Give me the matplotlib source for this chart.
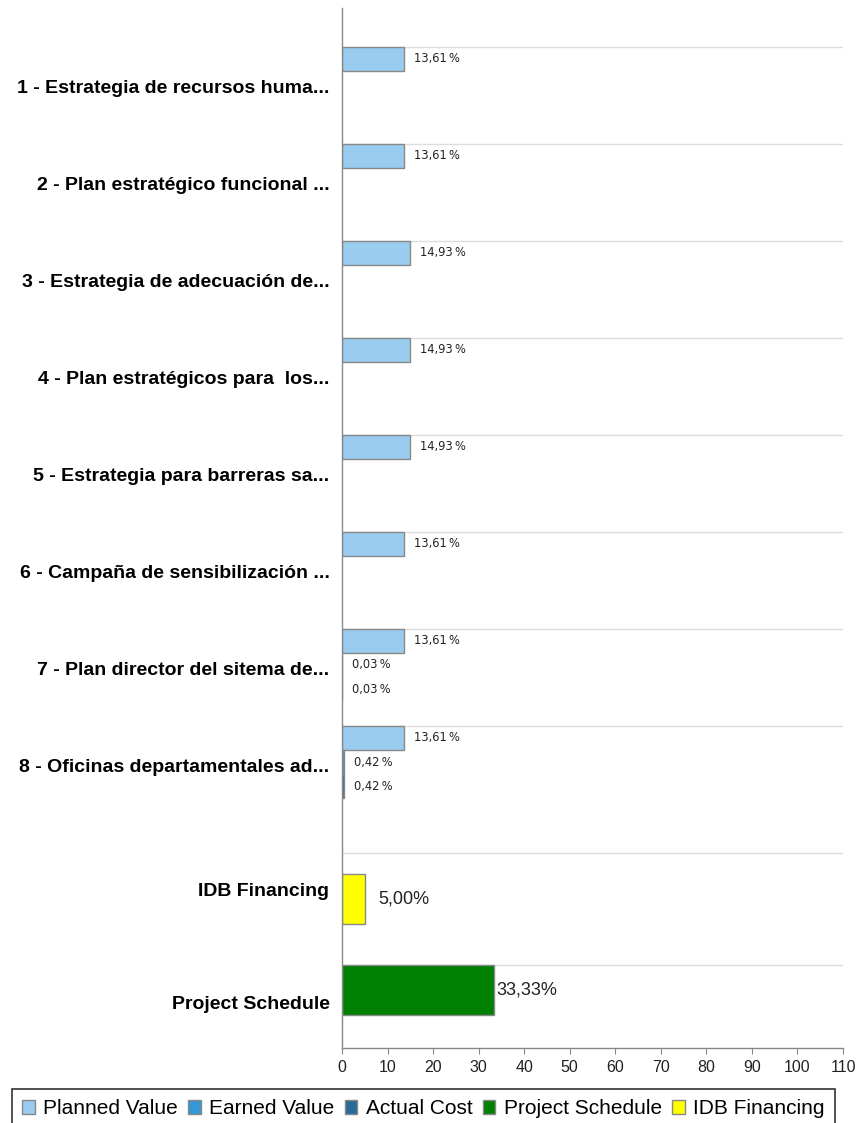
import matplotlib
matplotlib.use("Agg")
import matplotlib.pyplot as plt
from matplotlib.patches import Patch

plt.rcParams['font.family'] = ['Liberation Sans', 'DejaVu Sans']

categories = [
    "1 - Estrategia de recursos huma...",
    "2 - Plan estratégico funcional ...",
    "3 - Estrategia de adecuación de...",
    "4 - Plan estratégicos para  los...",
    "5 - Estrategia para barreras sa...",
    "6 - Campaña de sensibilización ...",
    "7 - Plan director del sitema de...",
    "8 - Oficinas departamentales ad...",
]
planned = [13.61, 13.61, 14.93, 14.93, 14.93, 13.61, 13.61, 13.61]
earned = [None, None, None, None, None, None, 0.03, 0.42]
actual = [None, None, None, None, None, None, 0.03, 0.42]
idb_label = "IDB Financing"
idb_value = 5.00
schedule_label = "Project Schedule"
schedule_value = 33.33
x_ticks = list(range(0, 111, 10))
legend_labels = ["Planned Value", "Earned Value", "Actual Cost", "Project Schedule", "IDB Financing"]

c_planned = "#99ccee"
c_earned = "#3399d6"
c_actual = "#2a6a99"
c_sched = "#008000"
c_idb = "#ffff00"
edge = "#888888"

W, H = 857, 1123
fig = plt.figure(figsize=(W / 100, H / 100), dpi=100)
ax = fig.add_axes([342 / W, 1 - 1048 / H, (843 - 342) / W, (1048 - 8) / H])

def fmt_small(v):
    return f"{v:.2f}".replace(".", ",") + "\u2009%"

def fmt(v):
    return f"{v:.2f}".replace(".", ",") + "%"

grp_tops = list(range(len(categories)))
idb_top = 8.31
sched_top = 9.46
bh = 0.248

for i, top in enumerate(grp_tops):
    ax.axhline(top, color="#dddddd", lw=1, zorder=0)
    series = [(planned[i], c_planned, 0), (earned[i], c_earned, 1), (actual[i], c_actual, 2)]
    for v, c, k in series:
        if v is None:
            continue
        yc = top + bh * k + bh / 2
        ax.barh(yc, v, height=bh, color=c, edgecolor=edge, lw=1, zorder=2)
        ax.text(v + 2.2, yc, fmt_small(v), fontsize=8.3, va="center",
                ha="left", color="#222222", zorder=3, family="DejaVu Sans")

ax.axhline(idb_top, color="#dddddd", lw=1, zorder=0)
yc_idb = idb_top + 0.216 + 0.257
ax.barh(yc_idb, idb_value, height=0.515, color=c_idb, edgecolor=edge, lw=1, zorder=2)
ax.text(idb_value + 3, yc_idb, fmt(idb_value), fontsize=13, va="center", ha="left", color="#222222")

ax.axhline(sched_top, color="#dddddd", lw=1, zorder=0)
yc_s = sched_top + 0.01 + 0.257
ax.barh(yc_s, schedule_value, height=0.515, color=c_sched, edgecolor=edge, lw=1, zorder=2)
ax.text(schedule_value + 0.6, yc_s, fmt(schedule_value), fontsize=13, va="center", ha="left", color="#222222")

yticks = [t + 0.41 for t in grp_tops] + [idb_top + 0.38, sched_top + 0.39]
ax.set_yticks(yticks)
ax.set_yticklabels(categories + [idb_label, schedule_label], fontsize=14, fontweight="bold")
ax.tick_params(axis="y", length=0, pad=9)

ax.set_xlim(0, 110)
ax.set_ylim(10.32, -0.40)
ax.set_xticks(x_ticks)
ax.set_xticklabels([str(t) for t in x_ticks], fontsize=11.5, color="#222222")
ax.tick_params(axis="x", length=4, color="#888888", pad=5)

for s in ["top", "right"]:
    ax.spines[s].set_visible(False)
for s in ["left", "bottom"]:
    ax.spines[s].set_color("#888888")
    ax.spines[s].set_linewidth(1)

handles = [
    Patch(facecolor=c_planned, edgecolor=edge),
    Patch(facecolor=c_earned, edgecolor=edge),
    Patch(facecolor=c_actual, edgecolor=edge),
    Patch(facecolor=c_sched, edgecolor=edge),
    Patch(facecolor=c_idb, edgecolor=edge),
]
leg = fig.legend(handles, legend_labels, ncol=5, loc="upper left",
                 bbox_to_anchor=(12 / W, 1 - 1089 / H), fontsize=15,
                 frameon=True, fancybox=False, edgecolor="black",
                 handlelength=0.6, handleheight=0.6, handletextpad=0.4,
                 columnspacing=0.5, borderpad=0.5, borderaxespad=0)
leg.get_frame().set_linewidth(1.2)

fig.savefig("out.png", dpi=100)
